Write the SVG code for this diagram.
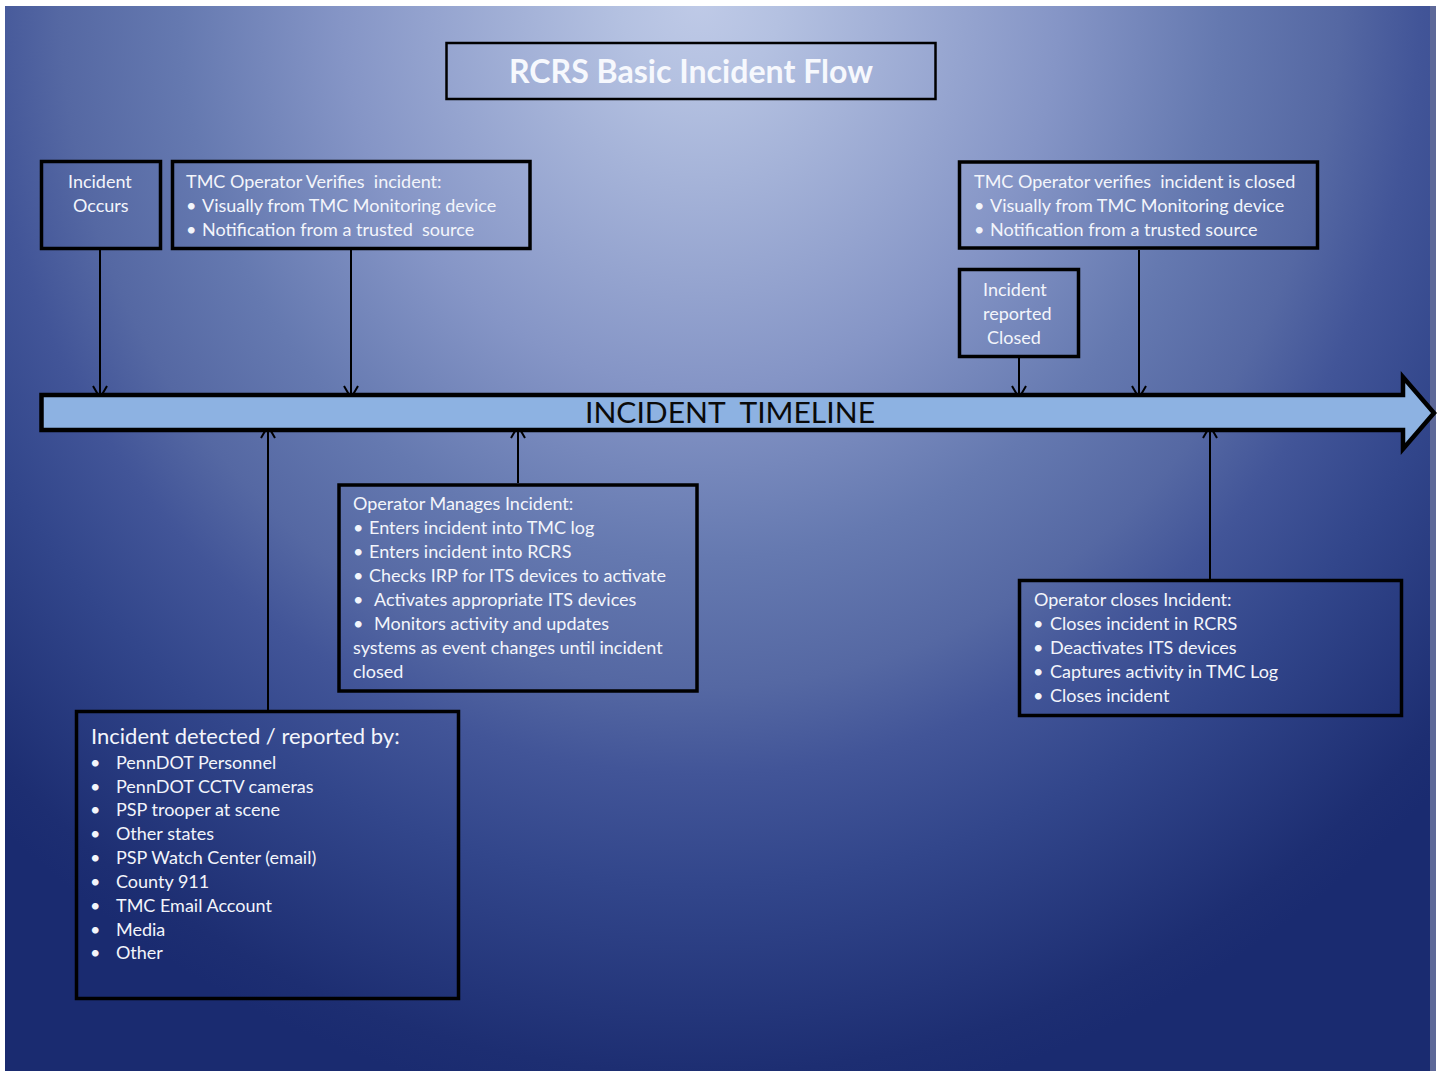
<svg xmlns="http://www.w3.org/2000/svg" width="1444" height="1071" viewBox="0 0 1444 1071">
  <style>
    .box { fill: none; stroke: #000; stroke-width: 3.5; }
    .title-box { fill: none; stroke: #000; stroke-width: 2.5; }
    .t { font-family: Lato, "Open Sans", "Liberation Sans", sans-serif; font-size: 18px; fill: #f3f5fb; white-space: pre; }
    .h2 { font-size: 22px; }
    .title { font-family: Lato, "Open Sans", "Liberation Sans", sans-serif; font-size: 32px; font-weight: bold; fill: #f6f8fd; }
    .tl { font-family: Lato, "Open Sans", "Liberation Sans", sans-serif; font-size: 28px; fill: #0a0a0a; white-space: pre; }
    .link { fill: none; stroke: #000; stroke-width: 2; }
  </style>
  <defs>
    <radialGradient id="bg" gradientUnits="userSpaceOnUse" cx="0" cy="0" r="1.3" gradientTransform="translate(700,0) scale(800,860)">
      <stop offset="0" stop-color="#bfcae7"/>
      <stop offset="0.077" stop-color="#b4c1e1"/>
      <stop offset="0.346" stop-color="#8595c6"/>
      <stop offset="0.5" stop-color="#6579b0"/>
      <stop offset="0.615" stop-color="#5568a3"/>
      <stop offset="0.692" stop-color="#425598"/>
      <stop offset="0.792" stop-color="#32468b"/>
      <stop offset="0.96" stop-color="#1d2e72"/>
      <stop offset="1" stop-color="#1a2b70"/>
    </radialGradient>
    <marker id="arrow" markerUnits="userSpaceOnUse" orient="auto" refX="0" refY="0" markerWidth="30" markerHeight="30" overflow="visible">
      <path d="M-12,-7 L0,0 L-12,7" fill="none" stroke="#000" stroke-width="2"/>
    </marker>
  </defs>

  <!-- page background -->
  <rect x="0" y="0" width="1444" height="1071" fill="#ffffff"/>
  <rect x="5" y="6" width="1425" height="1065" fill="url(#bg)"/>
  <rect x="1430" y="6" width="6" height="1065" fill="#5d6898"/>

  <!-- title -->
  <g id="title">
    <rect class="title-box" x="446.5" y="43" width="489" height="56"/>
    <text class="title" x="509" y="83" textLength="364" lengthAdjust="spacingAndGlyphs">RCRS Basic Incident Flow</text>
  </g>

  <!-- connectors -->
  <g id="connectors">
    <path class="link" d="M100,250 V398" marker-end="url(#arrow)"/>
    <path class="link" d="M351,250 V398" marker-end="url(#arrow)"/>
    <path class="link" d="M1019,358 V398" marker-end="url(#arrow)"/>
    <path class="link" d="M1139,250 V398" marker-end="url(#arrow)"/>
    <path class="link" d="M268,710 V426" marker-end="url(#arrow)"/>
    <path class="link" d="M518,483 V426" marker-end="url(#arrow)"/>
    <path class="link" d="M1210,579 V426" marker-end="url(#arrow)"/>
  </g>

  <!-- timeline arrow -->
  <g id="timeline">
    <polygon points="41.5,395 1403,395 1403,377 1434,413 1403,449 1403,430 41.5,430" fill="#8db2e2" stroke="#000" stroke-width="4.5" stroke-linejoin="miter" stroke-miterlimit="10"/>
    <text class="tl" x="585" y="423" textLength="290" lengthAdjust="spacingAndGlyphs">INCIDENT  TIMELINE</text>
  </g>

  <!-- nodes above the timeline -->
  <g id="incident-occurs">
    <rect class="box" x="41.5" y="161.5" width="119" height="87"/>
    <text class="t" x="68" y="188">Incident</text>
    <text class="t" x="73" y="212">Occurs</text>
  </g>

  <g id="operator-verifies">
    <rect class="box" x="172.5" y="161.5" width="357.5" height="87"/>
    <text class="t" x="186" y="188">TMC Operator Verifies  incident:</text>
    <text class="t" x="186" y="212">•</text>
    <text class="t" x="202" y="212">Visually from TMC Monitoring device</text>
    <text class="t" x="186" y="236">•</text>
    <text class="t" x="202" y="236">Notification from a trusted  source</text>
  </g>

  <g id="operator-verifies-closed">
    <rect class="box" x="959.5" y="162" width="358" height="86"/>
    <text class="t" x="974" y="188">TMC Operator verifies  incident is closed</text>
    <text class="t" x="974" y="212">•</text>
    <text class="t" x="990" y="212">Visually from TMC Monitoring device</text>
    <text class="t" x="974" y="236">•</text>
    <text class="t" x="990" y="236">Notification from a trusted source</text>
  </g>

  <g id="reported-closed">
    <rect class="box" x="959.5" y="269.5" width="119" height="87"/>
    <text class="t" x="983" y="296">Incident</text>
    <text class="t" x="983" y="320">reported</text>
    <text class="t" x="987" y="344">Closed</text>
  </g>

  <!-- nodes below the timeline -->
  <g id="operator-manages">
    <rect class="box" x="339" y="485" width="358" height="206"/>
    <text class="t" x="353" y="510">Operator Manages Incident:</text>
    <text class="t" x="353" y="534">•</text>
    <text class="t" x="369" y="534">Enters incident into TMC log</text>
    <text class="t" x="353" y="558">•</text>
    <text class="t" x="369" y="558">Enters incident into RCRS</text>
    <text class="t" x="353" y="582">•</text>
    <text class="t" x="369" y="582">Checks IRP for ITS devices to activate</text>
    <text class="t" x="353" y="606">•</text>
    <text class="t" x="374" y="606">Activates appropriate ITS devices</text>
    <text class="t" x="353" y="630">•</text>
    <text class="t" x="374" y="630">Monitors activity and updates</text>
    <text class="t" x="353" y="654">systems as event changes until incident</text>
    <text class="t" x="353" y="678">closed</text>
  </g>

  <g id="operator-closes">
    <rect class="box" x="1019.5" y="580.5" width="382" height="135"/>
    <text class="t" x="1034" y="606">Operator closes Incident:</text>
    <text class="t" x="1033" y="630">•</text>
    <text class="t" x="1050" y="630">Closes incident in RCRS</text>
    <text class="t" x="1033" y="654">•</text>
    <text class="t" x="1050" y="654">Deactivates ITS devices</text>
    <text class="t" x="1033" y="678">•</text>
    <text class="t" x="1050" y="678">Captures activity in TMC Log</text>
    <text class="t" x="1033" y="702">•</text>
    <text class="t" x="1050" y="702">Closes incident</text>
  </g>

  <g id="detected-by">
    <rect class="box" x="76.5" y="711.5" width="382" height="287"/>
    <text class="t h2" x="91" y="744">Incident detected / reported by:</text>
    <text class="t" x="90" y="769">•</text>
    <text class="t" x="116" y="769">PennDOT Personnel</text>
    <text class="t" x="90" y="793">•</text>
    <text class="t" x="116" y="793">PennDOT CCTV cameras</text>
    <text class="t" x="90" y="816">•</text>
    <text class="t" x="116" y="816">PSP trooper at scene</text>
    <text class="t" x="90" y="840">•</text>
    <text class="t" x="116" y="840">Other states</text>
    <text class="t" x="90" y="864">•</text>
    <text class="t" x="116" y="864">PSP Watch Center (email)</text>
    <text class="t" x="90" y="888">•</text>
    <text class="t" x="116" y="888">County 911</text>
    <text class="t" x="90" y="912">•</text>
    <text class="t" x="116" y="912">TMC Email Account</text>
    <text class="t" x="90" y="936">•</text>
    <text class="t" x="116" y="936">Media</text>
    <text class="t" x="90" y="959">•</text>
    <text class="t" x="116" y="959">Other</text>
  </g>
</svg>
